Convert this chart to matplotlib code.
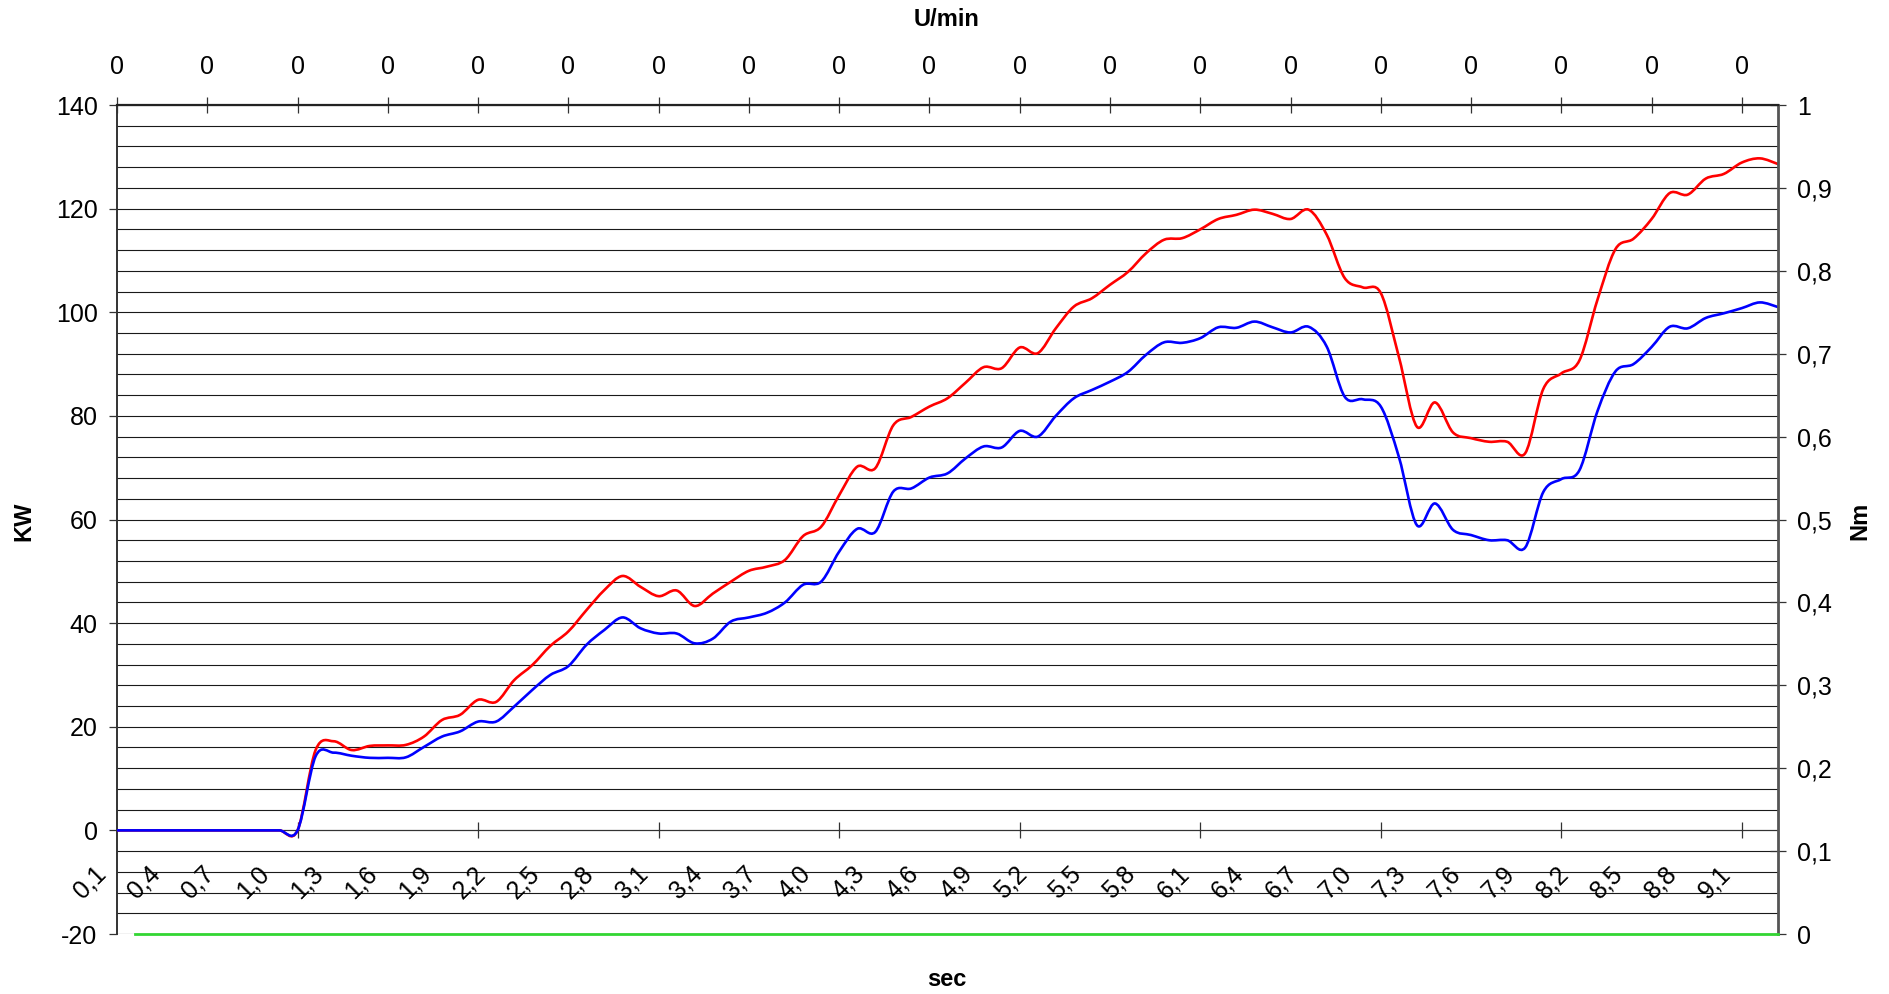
import numpy as np
import matplotlib.pyplot as plt
from matplotlib.path import Path
from matplotlib.patches import PathPatch
from matplotlib.ticker import MultipleLocator
from matplotlib.transforms import ScaledTranslation

plt.rcParams['font.family'] = ['Liberation Sans', 'DejaVu Sans']

# time categories 0,1 ... 9,3 s
sec = np.round(np.arange(1, 94) * 0.1, 1)

kw_red = [0, 0, 0, 0, 0, 0, 0, 0, 0, 0, 0,
          15.5, 17.2, 15.5, 16.3, 16.4, 16.5, 18.1, 21.3,
          22.3, 25.2, 24.8, 29.0, 31.9, 35.6, 38.4, 42.5, 46.4, 49.1,
          47.0, 45.2, 46.3, 43.3, 45.7, 48.0, 50.1, 50.9, 52.2, 56.8,
          58.6, 64.7, 70.2, 69.9, 78.2, 79.8, 81.8, 83.4, 86.4, 89.4,
          89.2, 93.2, 92.1, 96.9, 101.1, 102.7, 105.3, 107.8, 111.4, 114.0,
          114.3, 116.0, 118.0, 118.8, 119.8, 119.0, 118.0, 119.8, 115.0, 106.6,
          104.8, 103.7, 91.4, 77.9, 82.6, 76.8, 75.7, 75.0, 75.0, 72.8,
          85.2, 88.2, 90.7, 102.4, 112.2, 114.2, 118.0, 123.0, 122.7, 125.8,
          126.7, 128.9, 129.7, 128.6]

kw_blue = [0, 0, 0, 0, 0, 0, 0, 0, 0, 0, 0,
           14.3, 15.0, 14.4, 14.0, 14.0, 14.1, 16.1, 18.1,
           19.1, 21.0, 21.0, 23.9, 27.1, 30.0, 31.7, 35.8, 38.7, 41.1,
           39.0, 38.0, 38.0, 36.1, 37.0, 40.3, 41.1, 42.0, 44.0, 47.4,
           48.0, 53.8, 58.2, 57.6, 65.4, 66.0, 68.1, 68.9, 71.8, 74.1,
           73.9, 77.1, 76.0, 80.0, 83.4, 85.0, 86.6, 88.5, 91.8, 94.2,
           94.1, 95.0, 97.1, 97.0, 98.2, 97.1, 96.1, 97.2, 93.4, 83.7,
           83.2, 81.8, 72.1, 58.9, 63.1, 58.0, 57.0, 56.0, 56.0, 54.6,
           65.3, 67.8, 69.5, 80.9, 88.6, 90.0, 93.3, 97.2, 96.9, 98.9,
           99.8, 100.8, 101.9, 101.0]

# torque series (green, right axis) starts at 0,2 s
nm_green = [0.0] * 92

# speed values shown on the top axis
rpm = [0] * 93

kw_ticks = [-20, 0, 20, 40, 60, 80, 100, 120, 140]
nm_ticks = [0, 0.1, 0.2, 0.3, 0.4, 0.5, 0.6, 0.7, 0.8, 0.9, 1.0]


def smooth_path(x, y):
    # Excel-like smoothed line: cubic bezier through all points
    x = np.asarray(x, float)
    y = np.asarray(y, float)
    px = np.concatenate([[x[0]], x, [x[-1]]])
    py = np.concatenate([[y[0]], y, [y[-1]]])
    verts = [(x[0], y[0])]
    for i in range(len(x) - 1):
        c1 = (x[i] + (px[i + 2] - px[i]) / 6, y[i] + (py[i + 2] - py[i]) / 6)
        c2 = (x[i + 1] - (px[i + 3] - px[i + 1]) / 6, y[i + 1] - (py[i + 3] - py[i + 1]) / 6)
        verts += [c1, c2, (x[i + 1], y[i + 1])]
    codes = [Path.MOVETO] + [Path.CURVE4] * (3 * (len(x) - 1))
    return Path(verts, codes)


fig = plt.figure(figsize=(18.9, 9.94), dpi=100)
ax = fig.add_axes([117 / 1890, 1 - 934 / 994, (1778 - 117) / 1890, (934 - 105) / 994])

ax.set_xlim(sec[0], sec[-1])
ax.set_ylim(-20, 140)
ax.set_yticks(kw_ticks)
ax.set_yticklabels([str(v) for v in kw_ticks])
ax.yaxis.set_minor_locator(MultipleLocator(4))
ax.grid(which='both', axis='y', color='#1a1a1a', lw=0.8)
ax.set_axisbelow(True)

ax.tick_params(axis='y', which='major', direction='out', length=6, width=0.9,
               pad=8, labelsize=18, color='#333333')
ax.tick_params(axis='y', which='minor', length=0)

ax.set_xticks(sec[10::10])
ax.tick_params(axis='x', which='major', direction='inout', length=12, width=0.9,
               labelbottom=False, color='#333333')
ax.spines['bottom'].set_position(('data', 0))
ax.spines['bottom'].set_color('#333333')
ax.spines['bottom'].set_linewidth(0.8)
ax.spines['left'].set_color('#333333')
ax.spines['left'].set_linewidth(1.4)
ax.spines['right'].set_visible(False)
ax.spines['top'].set_visible(False)

ax.add_patch(PathPatch(smooth_path(sec, kw_red), fill=False, edgecolor='#ff0000',
                       lw=1.9, zorder=3, capstyle='round', joinstyle='round'))
ax.add_patch(PathPatch(smooth_path(sec, kw_blue), fill=False, edgecolor='#0000ff',
                       lw=1.9, zorder=4, capstyle='round', joinstyle='round'))

# bottom category labels every 3rd point
off = ScaledTranslation(-0.27, 0, fig.dpi_scale_trans)
for t in sec[::3]:
    ax.text(t, -10, f"{t:.1f}".replace('.', ','), rotation=45, ha='center',
            va='center', fontsize=18, transform=ax.transData + off)

# right axis (Nm)
ax2 = ax.twinx()
ax2.set_ylim(0, 1)
ax2.set_yticks(nm_ticks)
ax2.set_yticklabels([f"{v:g}".replace('.', ',') for v in nm_ticks])
ax2.tick_params(axis='y', direction='inout', length=12, width=0.9, pad=8,
                labelsize=18, color='#333333')
for s in ['left', 'top', 'bottom']:
    ax2.spines[s].set_visible(False)
ax2.spines['right'].set_color('#555555')
ax2.spines['right'].set_linewidth(2)
ax2.plot(sec[1:], nm_green, color='#33d633', lw=2, clip_on=False, zorder=5)

# top axis (U/min)
ax3 = ax.twiny()
ax3.set_xlim(sec[0], sec[-1])
ax3.set_xticks(sec[::5])
ax3.set_xticklabels([str(v) for v in rpm[::5]])
ax3.tick_params(axis='x', direction='inout', length=12, width=0.9, pad=13,
                labelsize=18, color='#333333')
for s in ['left', 'right', 'bottom']:
    ax3.spines[s].set_visible(False)
ax3.spines['top'].set_color('#222222')
ax3.spines['top'].set_linewidth(1.6)

fig.text(947 / 1890, 1 - 19 / 994, "U/min", ha='center', va='center',
         fontsize=17, fontweight='bold')
fig.text(947 / 1890, 1 - 979 / 994, "sec", ha='center', va='center',
         fontsize=17, fontweight='bold')
fig.text(24 / 1890, 1 - 521 / 994, "KW", ha='center', va='center',
         fontsize=17, fontweight='bold', rotation=90)
fig.text(1860 / 1890, 1 - 521 / 994, "Nm", ha='center', va='center',
         fontsize=17, fontweight='bold', rotation=90)

plt.savefig("out.png", dpi=100)
